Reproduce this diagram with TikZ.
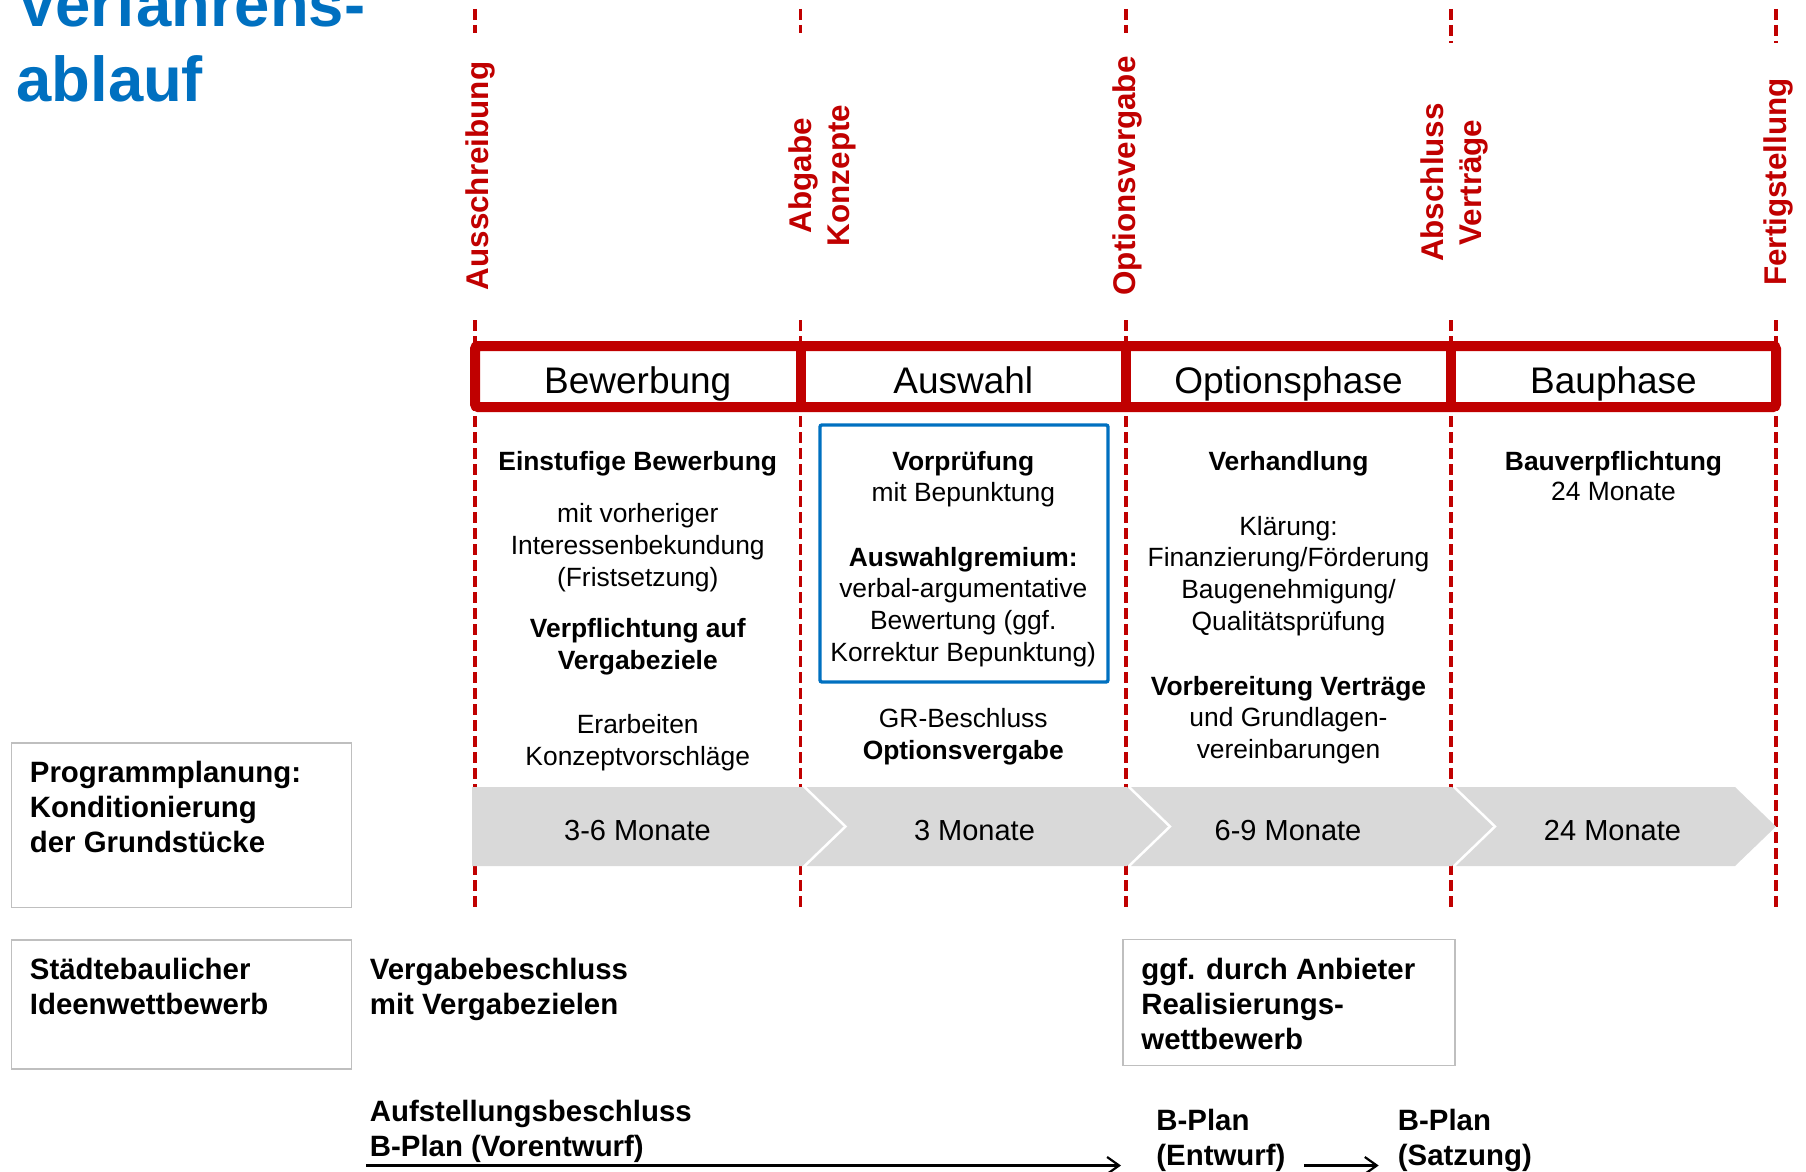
\documentclass[tikz,border=0pt]{standalone}
\usepackage{fontspec}
\setmainfont{Liberation Sans}
\usetikzlibrary{arrows.meta}
\definecolor{dbred}{RGB}{192,0,0}
\definecolor{dbblue}{RGB}{0,112,192}
\definecolor{chevgray}{RGB}{217,217,217}
\definecolor{boxgray}{RGB}{191,191,191}
\newcommand{\fsz}[2]{\fontsize{#1}{#2}\selectfont}
\begin{document}
\begin{tikzpicture}[x=0.5pt,y=-0.5pt,
  milestone/.style={rotate=90, text=dbred, font={\fsz{15.7pt}{19pt}\bfseries}, align=center, inner sep=0pt},
  msline/.style={draw=dbred, line width=1.7pt, dash pattern=on 5.5pt off 2.5pt},
  phasebar/.style={draw=dbred, line width=5pt},
  phasename/.style={font={\fsz{18.5pt}{22pt}}, anchor=base, inner sep=0pt},
  coltext/.style={font={\fsz{13.2pt}{15.9pt}}, align=center, anchor=north, inner sep=0pt},
  coltextb/.style={coltext, font={\fsz{13.2pt}{15.9pt}\bfseries}},
  chevron/.style={fill=chevgray},
  duration/.style={font={\fsz{14.5pt}{17pt}}, anchor=base, inner sep=0pt},
  sidebox/.style={draw=boxgray, line width=0.75pt, anchor=north west, inner sep=0pt, outer sep=0pt},
  sidetext/.style={font={\fsz{14.7pt}{17.5pt}\bfseries}, align=left, anchor=north west, inner sep=0pt},
  flow/.style={draw=black, line width=1.1pt, -{Straight Barb[length=6pt,width=8.5pt]}}
]
\useasboundingbox (0,0) rectangle (1806,1172);
\clip (0,0) rectangle (1806,1172);

% title
\node[font={\fsz{31.7pt}{37.5pt}\bfseries}, text=dbblue, align=left,
      anchor=south west, inner sep=0pt] (title) at (16,103) {Verfahrens-\\ablauf};

% milestone lines
\foreach \x/\t in {475/33, 800.5/33, 1126/33, 1451/43, 1776/43} {
  \draw[msline] (\x,9) -- (\x,\t);
  \draw[msline] (\x,320) -- (\x,910);
}

% milestone labels
\node[milestone] (m1) at (480,176) {Ausschreibung};
\node[milestone] (m2) at (822.5,175.5) {Abgabe\\Konzepte};
\node[milestone] (m3) at (1127,176) {Optionsvergabe};
\node[milestone] (m4) at (1454,182.5) {Abschluss\\Verträge};
\node[milestone] (m5) at (1778,182) {Fertigstellung};

% phase bar
\draw[phasebar, rounded corners=1.5pt] (475,346) rectangle (1776,407);
\foreach \x in {800.5,1126,1451} \draw[phasebar] (\x,346) -- (\x,407);
\node[phasename] (p1) at (637.75,393.5) {Bewerbung};
\node[phasename] (p2) at (963.25,393.5) {Auswahl};
\node[phasename] (p3) at (1288.5,393.5) {Optionsphase};
\node[phasename] (p4) at (1613.5,393.5) {Bauphase};

% column 1
\node[coltextb] (c1a) at (637.75,451) {Einstufige Bewerbung};
\node[coltext]  (c1b) at (637.75,503) {mit vorheriger\\Interessenbekundung\\(Fristsetzung)};
\node[coltextb] (c1c) at (637.75,618) {Verpflichtung auf\\Vergabeziele};
\node[coltext]  (c1d) at (637.75,714) {Erarbeiten\\Konzeptvorschläge};

% column 2
\draw[dbblue, line width=1.7pt, rounded corners=1pt] (820,425) rectangle (1108,682);
\node[coltextb] (c2a) at (963.25,451) {Vorprüfung};
\node[coltext]  (c2b) at (963.25,482) {mit Bepunktung};
\node[coltextb] (c2c) at (963.25,546.5) {Auswahlgremium:};
\node[coltext]  (c2d) at (963.25,578) {verbal-argumentative\\Bewertung (ggf.\\Korrektur Bepunktung)};
\node[coltext]  (c2e) at (963.25,708) {GR-Beschluss};
\node[coltextb] (c2f) at (963.25,739.5) {Optionsvergabe};

% column 3
\node[coltextb] (c3a) at (1288.5,451) {Verhandlung};
\node[coltext]  (c3b) at (1288.5,515.5) {Klärung:\\Finanzierung/Förderung\\Baugenehmigung/\\Qualitätsprüfung};
\node[coltextb] (c3c) at (1288.5,675.5) {Vorbereitung Verträge};
\node[coltext]  (c3d) at (1288.5,707) {und Grundlagen-\\vereinbarungen};

% column 4
\node[coltextb] (c4a) at (1613.5,451) {Bauverpflichtung};
\node[coltext]  (c4b) at (1613.5,482) {24 Monate};

% duration chevrons
\fill[chevron] (472,787) -- (802.5,787) -- (843.5,826.5) -- (802.5,866) -- (472,866) -- cycle;
\fill[chevron] (806.5,787) -- (1127,787) -- (1168,826.5) -- (1127,866) -- (806.5,866) -- (847.5,826.5) -- cycle;
\fill[chevron] (1131,787) -- (1452,787) -- (1493,826.5) -- (1452,866) -- (1131,866) -- (1172,826.5) -- cycle;
\fill[chevron] (1456,787) -- (1735,787) -- (1776,826.5) -- (1735,866) -- (1456,866) -- (1497,826.5) -- cycle;
\node[duration] (d1) at (637.5,840.5) {3-6 Monate};
\node[duration] (d2) at (974.5,840.5) {3 Monate};
\node[duration] (d3) at (1288,840.5) {6-9 Monate};
\node[duration] (d4) at (1612.5,840.5) {24 Monate};

% side boxes and notes
\node[sidebox, minimum width=169.9pt, minimum height=82.3pt] (b1) at (11.5,743) {};
\node[sidetext] (t1) at (29.5,760.8) {Programmplanung:\\Konditionierung\\der Grundstücke};
\node[sidebox, minimum width=169.9pt, minimum height=64.5pt] (b2) at (11.5,940) {};
\node[sidetext] (t2) at (29.5,957.8) {Städtebaulicher\\Ideenwettbewerb};
\node[sidetext] (t3) at (369.5,957.8) {Vergabebeschluss\\mit Vergabezielen};
\node[sidebox, minimum width=166pt, minimum height=63pt] (b3) at (1123,939.5) {};
\node[sidetext] (t4) at (1141,957.8) {ggf. durch Anbieter\\Realisierungs-\\wettbewerb};

% B-Plan procedure
\node[sidetext] (t5) at (369.5,1099.4) {Aufstellungsbeschluss\\B-Plan (Vorentwurf)};
\node[sidetext] (t6) at (1156,1108.7) {B-Plan\\(Entwurf)};
\node[sidetext] (t7) at (1397.5,1108.7) {B-Plan\\(Satzung)};
\coordinate (arrowstart) at (366,1165.5);
\coordinate (arrowend) at (1121,1165.5);
\draw[flow] (arrowstart) -- (arrowend);
\draw[flow] ([xshift=9.3pt]t6.east |- arrowend) -- ([xshift=-9.4pt]t7.west |- arrowend);
\end{tikzpicture}
\end{document}
